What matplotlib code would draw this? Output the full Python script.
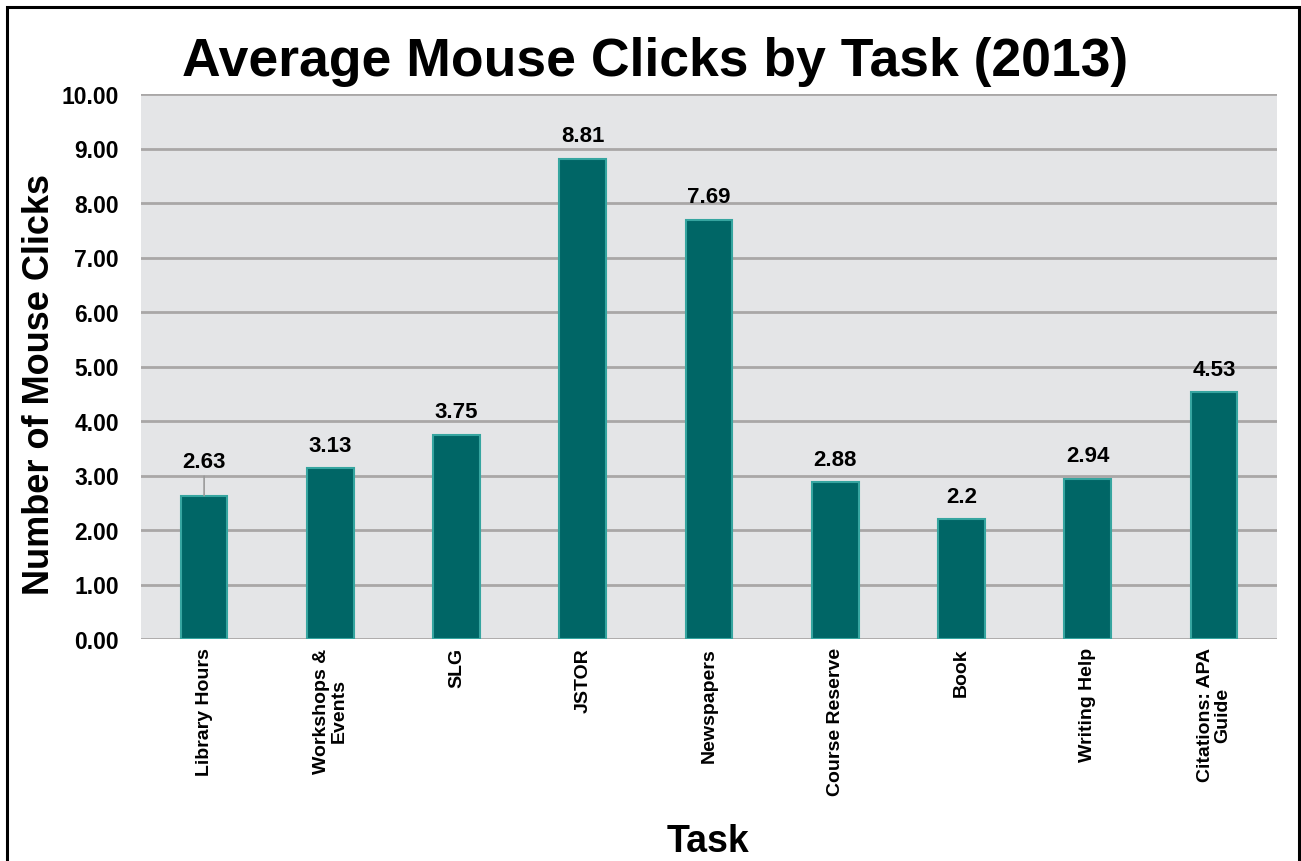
import matplotlib
matplotlib.use("Agg")
import matplotlib.pyplot as plt
from matplotlib.patches import Rectangle

plt.rcParams["font.family"] = ["Liberation Sans", "DejaVu Sans"]

tasks = ["Library Hours", "Workshops &\nEvents", "SLG", "JSTOR", "Newspapers",
         "Course Reserve", "Book", "Writing Help", "Citations: APA\nGuide"]
clicks = [2.63, 3.13, 3.75, 8.81, 7.69, 2.88, 2.2, 2.94, 4.53]
value_labels = ["2.63", "3.13", "3.75", "8.81", "7.69", "2.88", "2.2", "2.94", "4.53"]
y_ticks = [0, 1, 2, 3, 4, 5, 6, 7, 8, 9, 10]

W, H = 1301, 862
fig = plt.figure(figsize=(W / 100, H / 100), dpi=100)
ax = fig.add_axes([141 / W, 1 - 640 / H, 1136 / W, 545 / H])
ax.set_facecolor("#e4e5e7")

x = list(range(len(tasks)))
ax.bar(x, clicks, width=0.37, color="#006666", edgecolor="#36a5a0",
       linewidth=1.5, zorder=3)

for xi, v, lab in zip(x, clicks, value_labels):
    if lab == "2.63":
        # this label sits higher with a leader line down to the bar
        ax.annotate(lab, xy=(xi, v), xytext=(0, 17), textcoords="offset points",
                    ha="center", va="bottom", fontsize=16, fontweight="bold",
                    arrowprops=dict(arrowstyle="-", color="#9a9a9a", lw=1.2,
                                    shrinkA=1, shrinkB=0))
    else:
        ax.annotate(lab, xy=(xi, v), xytext=(0, 9), textcoords="offset points",
                    ha="center", va="bottom", fontsize=16, fontweight="bold")

ax.set_xlim(-0.5, len(tasks) - 0.5)
ax.set_ylim(0, 10)
ax.set_yticks(y_ticks)
ax.set_yticklabels([f"{t:.2f}" for t in y_ticks], fontsize=16.5, fontweight="bold")
ax.set_xticks(x)
ax.set_xticklabels(tasks, rotation=90, fontsize=14, fontweight="bold",
                   linespacing=1.0)
ax.tick_params(axis="y", length=0, pad=16)
ax.tick_params(axis="x", length=0, pad=6)
ax.grid(axis="y", color="#a9a7a7", linewidth=2, zorder=0)
ax.set_axisbelow(True)
for s in ax.spines.values():
    s.set_visible(False)

ax.set_ylabel("Number of Mouse Clicks", fontsize=26, fontweight="bold", va="center")
ax.yaxis.set_label_coords((40 - 141) / 1136, (640 - 385) / 545)
ax.set_xlabel("Task", fontsize=27, fontweight="bold", va="center")
ax.xaxis.set_label_coords((708 - 141) / 1136, (640 - 842) / 545)
fig.suptitle("Average Mouse Clicks by Task (2013)", fontsize=38.5, fontweight="bold",
             x=655 / W, y=1 - 62 / H, va="center")

# frame around the whole chart
fig.patches.append(Rectangle((7 / W, -0.01), 1292 / W, 1.01 - 8 / H,
                             transform=fig.transFigure, fill=False,
                             edgecolor="black", linewidth=2.2))

fig.savefig("out.png", dpi=100)
